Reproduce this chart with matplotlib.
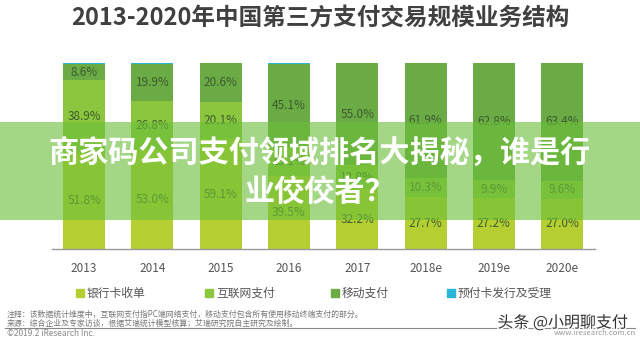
import matplotlib
matplotlib.use('Agg')
import matplotlib.pyplot as plt
import matplotlib.patheffects as pe
from matplotlib.patches import Rectangle
import numpy as np

plt.rcParams['font.family'] = ['Noto Sans CJK SC', 'DejaVu Sans']

# data (% share of each business line per year)
years = ['2013', '2014', '2015', '2016', '2017', '2018e', '2019e', '2020e']
bank_card = [51.8, 53.0, 59.1, 39.5, 32.2, 27.7, 27.2, 27.0]
internet = [38.9, 26.8, 20.1, 15.1, 12.8, 10.3, 9.9, 9.6]
mobile = [8.6, 19.9, 20.6, 45.1, 55.0, 61.9, 62.8, 63.4]
prepaid = [0.7, 0.3, 0.2, 0.3, 0.0, 0.1, 0.1, 0.0]

series_names = ['银行卡收单', '互联网支付', '移动支付', '预付卡发行及受理']
colors = ['#b5cf33', '#8cc63f', '#6aab45', '#29b6d8']

title = '2013-2020年中国第三方支付交易规模业务结构'
banner_lines = ['商家码公司支付领域排名大揭秘，谁是行', '业佼佼者？']
note1 = '注释：该数据统计维度中，互联网支付指PC端网络支付，移动支付包含所有使用移动终端支付的部分。'
note2 = '来源：综合企业及专家访谈，根据艾瑞统计模型核算；艾瑞研究院自主研究及绘制。'

fig = plt.figure(figsize=(6.4, 3.44), dpi=100)
ax = fig.add_axes([52 / 640, 1 - 249 / 344, 543 / 640, 186 / 344])

x = np.arange(len(years))
bottom = np.zeros(len(years))
label_color = '#3d5c2e'
for vals, col in zip([bank_card, internet, mobile, prepaid], colors):
    vals = np.array(vals)
    ax.bar(x, vals, width=0.615, bottom=bottom, color=col, edgecolor='none')
    if col != colors[3]:
        for xi, b, v in zip(x, bottom, vals):
            ax.text(xi, b + v / 2, f'{v:.1f}%', ha='center', va='center',
                    fontsize=8.5, color=label_color)
    bottom += vals

ax.set_xlim(-0.47, 7.48)
ax.set_ylim(0, 100)
ax.set_yticks([])
ax.set_xticks(x)
ax.set_xticklabels(years, fontsize=8.5, color='#555555')
ax.tick_params(axis='x', length=0, pad=9)
for s in ['top', 'right', 'left']:
    ax.spines[s].set_visible(False)
ax.spines['bottom'].set_color('#999999')
ax.spines['bottom'].set_linewidth(1)

fig.text(0.5, 1 - 18 / 344, title, ha='center', va='center', fontsize=17,
         fontweight='bold', color='#404040')

# legend
leg_x = [80, 209, 335, 451]
for lx, name, col in zip(leg_x, series_names, colors):
    fig.patches.append(Rectangle((lx / 640 - 4 / 640, 1 - 297 / 344), 8 / 640, 8 / 344,
                                 transform=fig.transFigure, color=col))
    fig.text(lx / 640 + 7 / 640, 1 - 293 / 344, name, ha='left', va='center',
             fontsize=8.5, color='#555555')

# notes
fig.text(7 / 640, 1 - 314 / 344, note1, ha='left', va='center', fontsize=5.7, color='#777777')
fig.text(7 / 640, 1 - 323 / 344, note2, ha='left', va='center', fontsize=5.7, color='#777777')
fig.lines.append(plt.Line2D([5 / 640, 635 / 640], [1 - 327.5 / 344, 1 - 327.5 / 344],
                            transform=fig.transFigure, color='#888888', lw=0.8))
fig.text(7 / 640, 1 - 334 / 344, '©2019.2 iResearch Inc.', ha='left', va='center',
         fontsize=6, color='#888888')
fig.text(636 / 640, 1 - 333 / 344, 'www.iresearch.com.cn', ha='right', va='center',
         fontsize=5.5, color='#999999')
fig.text(628 / 640, 1 - 323 / 344, '头条 @小明聊支付', ha='right', va='center',
         fontsize=11.5, color='#333333',
         path_effects=[pe.withStroke(linewidth=2, foreground='white')])

# banner overlay
fig.patches.append(Rectangle((0, 1 - 220 / 344), 1, 98 / 344, transform=fig.transFigure,
                             facecolor='#6cbf3a', alpha=0.62, edgecolor='none', zorder=5))
fig.text(0.5, 1 - 153 / 344, banner_lines[0], ha='center', va='center', fontsize=21.7,
         fontweight='bold', color='white', zorder=6)
fig.text(0.5, 1 - 192 / 344, banner_lines[1], ha='center', va='center', fontsize=21.7,
         fontweight='bold', color='white', zorder=6)

fig.savefig('out.png', dpi=100)
